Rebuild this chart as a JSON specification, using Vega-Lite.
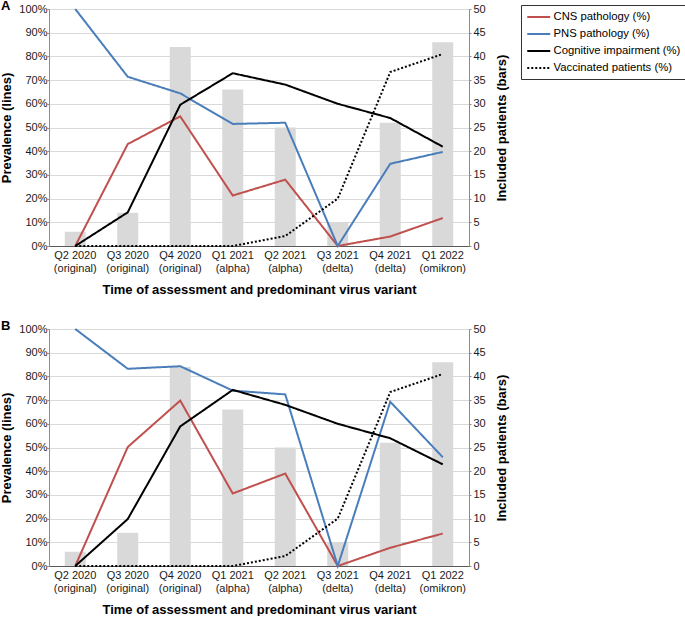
{
  "$schema": "https://vega.github.io/schema/vega-lite/v6.json",
  "padding": {"left": 0, "top": 0, "right": 0, "bottom": 0},
  "config": {
    "font": "Liberation Sans",
    "view": {"stroke": null},
    "axis": {
      "labelFontSize": 11,
      "labelColor": "#1a1a1a",
      "titleFontSize": 13,
      "titleFontWeight": "bold",
      "titleColor": "#000000",
      "domainColor": "#8c8c8c",
      "tickColor": "#8c8c8c",
      "gridColor": "#d9d9d9"
    }
  },
  "datasets": {
    "bars": [
      {"period": "Q2 2020 (original)", "patients": 3},
      {"period": "Q3 2020 (original)", "patients": 7},
      {"period": "Q4 2020 (original)", "patients": 42},
      {"period": "Q1 2021 (alpha)", "patients": 33},
      {"period": "Q2 2021 (alpha)", "patients": 25},
      {"period": "Q3 2021 (delta)", "patients": 5},
      {"period": "Q4 2021 (delta)", "patients": 26},
      {"period": "Q1 2022 (omikron)", "patients": 43}
    ],
    "linesA": [
      {"period": "Q2 2020 (original)", "series": "CNS pathology (%)", "value": 0},
      {"period": "Q3 2020 (original)", "series": "CNS pathology (%)", "value": 43},
      {"period": "Q4 2020 (original)", "series": "CNS pathology (%)", "value": 54.7},
      {"period": "Q1 2021 (alpha)", "series": "CNS pathology (%)", "value": 21.3},
      {"period": "Q2 2021 (alpha)", "series": "CNS pathology (%)", "value": 28},
      {"period": "Q3 2021 (delta)", "series": "CNS pathology (%)", "value": 0},
      {"period": "Q4 2021 (delta)", "series": "CNS pathology (%)", "value": 4},
      {"period": "Q1 2022 (omikron)", "series": "CNS pathology (%)", "value": 11.8},
      {"period": "Q2 2020 (original)", "series": "PNS pathology (%)", "value": 100},
      {"period": "Q3 2020 (original)", "series": "PNS pathology (%)", "value": 71.4},
      {"period": "Q4 2020 (original)", "series": "PNS pathology (%)", "value": 64.4},
      {"period": "Q1 2021 (alpha)", "series": "PNS pathology (%)", "value": 51.5},
      {"period": "Q2 2021 (alpha)", "series": "PNS pathology (%)", "value": 52},
      {"period": "Q3 2021 (delta)", "series": "PNS pathology (%)", "value": 0},
      {"period": "Q4 2021 (delta)", "series": "PNS pathology (%)", "value": 34.7},
      {"period": "Q1 2022 (omikron)", "series": "PNS pathology (%)", "value": 39.7},
      {"period": "Q2 2020 (original)", "series": "Cognitive impairment (%)", "value": 0},
      {"period": "Q3 2020 (original)", "series": "Cognitive impairment (%)", "value": 14.2},
      {"period": "Q4 2020 (original)", "series": "Cognitive impairment (%)", "value": 59.6},
      {"period": "Q1 2021 (alpha)", "series": "Cognitive impairment (%)", "value": 72.9},
      {"period": "Q2 2021 (alpha)", "series": "Cognitive impairment (%)", "value": 68.1},
      {"period": "Q3 2021 (delta)", "series": "Cognitive impairment (%)", "value": 60},
      {"period": "Q4 2021 (delta)", "series": "Cognitive impairment (%)", "value": 54},
      {"period": "Q1 2022 (omikron)", "series": "Cognitive impairment (%)", "value": 41.9},
      {"period": "Q2 2020 (original)", "series": "Vaccinated patients (%)", "value": 0},
      {"period": "Q3 2020 (original)", "series": "Vaccinated patients (%)", "value": 0},
      {"period": "Q4 2020 (original)", "series": "Vaccinated patients (%)", "value": 0},
      {"period": "Q1 2021 (alpha)", "series": "Vaccinated patients (%)", "value": 0},
      {"period": "Q2 2021 (alpha)", "series": "Vaccinated patients (%)", "value": 4.2},
      {"period": "Q3 2021 (delta)", "series": "Vaccinated patients (%)", "value": 20},
      {"period": "Q4 2021 (delta)", "series": "Vaccinated patients (%)", "value": 73.4},
      {"period": "Q1 2022 (omikron)", "series": "Vaccinated patients (%)", "value": 81}
    ],
    "linesB": [
      {"period": "Q2 2020 (original)", "series": "CNS pathology (%)", "value": 0},
      {"period": "Q3 2020 (original)", "series": "CNS pathology (%)", "value": 50.2},
      {"period": "Q4 2020 (original)", "series": "CNS pathology (%)", "value": 69.8},
      {"period": "Q1 2021 (alpha)", "series": "CNS pathology (%)", "value": 30.6},
      {"period": "Q2 2021 (alpha)", "series": "CNS pathology (%)", "value": 39},
      {"period": "Q3 2021 (delta)", "series": "CNS pathology (%)", "value": 0},
      {"period": "Q4 2021 (delta)", "series": "CNS pathology (%)", "value": 7.7},
      {"period": "Q1 2022 (omikron)", "series": "CNS pathology (%)", "value": 13.7},
      {"period": "Q2 2020 (original)", "series": "PNS pathology (%)", "value": 100},
      {"period": "Q3 2020 (original)", "series": "PNS pathology (%)", "value": 83.2},
      {"period": "Q4 2020 (original)", "series": "PNS pathology (%)", "value": 84.3},
      {"period": "Q1 2021 (alpha)", "series": "PNS pathology (%)", "value": 74},
      {"period": "Q2 2021 (alpha)", "series": "PNS pathology (%)", "value": 72.4},
      {"period": "Q3 2021 (delta)", "series": "PNS pathology (%)", "value": 0},
      {"period": "Q4 2021 (delta)", "series": "PNS pathology (%)", "value": 69.3},
      {"period": "Q1 2022 (omikron)", "series": "PNS pathology (%)", "value": 45.9},
      {"period": "Q2 2020 (original)", "series": "Cognitive impairment (%)", "value": 0},
      {"period": "Q3 2020 (original)", "series": "Cognitive impairment (%)", "value": 19.8},
      {"period": "Q4 2020 (original)", "series": "Cognitive impairment (%)", "value": 58.9},
      {"period": "Q1 2021 (alpha)", "series": "Cognitive impairment (%)", "value": 74.3},
      {"period": "Q2 2021 (alpha)", "series": "Cognitive impairment (%)", "value": 68},
      {"period": "Q3 2021 (delta)", "series": "Cognitive impairment (%)", "value": 60},
      {"period": "Q4 2021 (delta)", "series": "Cognitive impairment (%)", "value": 53.9},
      {"period": "Q1 2022 (omikron)", "series": "Cognitive impairment (%)", "value": 42.9},
      {"period": "Q2 2020 (original)", "series": "Vaccinated patients (%)", "value": 0},
      {"period": "Q3 2020 (original)", "series": "Vaccinated patients (%)", "value": 0},
      {"period": "Q4 2020 (original)", "series": "Vaccinated patients (%)", "value": 0},
      {"period": "Q1 2021 (alpha)", "series": "Vaccinated patients (%)", "value": 0},
      {"period": "Q2 2021 (alpha)", "series": "Vaccinated patients (%)", "value": 4.2},
      {"period": "Q3 2021 (delta)", "series": "Vaccinated patients (%)", "value": 20},
      {"period": "Q4 2021 (delta)", "series": "Vaccinated patients (%)", "value": 73.4},
      {"period": "Q1 2022 (omikron)", "series": "Vaccinated patients (%)", "value": 81}
    ]
  },
  "spacing": 24,
  "resolve": {
    "scale": {"color": "independent", "strokeDash": "independent"},
    "legend": {"color": "independent", "strokeDash": "independent"}
  },
  "vconcat": [
    {
      "width": 420,
      "height": 237,
      "title": {"text": "A", "anchor": "start", "frame": "group", "offset": 0, "dx": -48, "dy": 10, "fontSize": 13, "fontWeight": "bold", "color": "#000000"},
      "layer": [
        {
          "data": {"name": "bars"},
          "mark": {"type": "bar", "color": "#d9d9d9"},
          "encoding": {
            "x": {"field": "period", "type": "nominal", "sort": null,
              "scale": {"paddingInner": 0.6, "paddingOuter": 0.3},
              "axis": {"title": "Time of assessment and predominant virus variant", "labelAngle": 0, "labelExpr": "[slice(datum.label, 0, 7), slice(datum.label, 8)]", "labelLineHeight": 13, "labelPadding": 3, "ticks": false, "domainColor": "#595959", "titlePadding": 10}},
            "y": {"field": "patients", "type": "quantitative", "scale": {"domain": [0, 50]},
              "axis": {"orient": "right", "title": "Included patients (bars)", "titleAngle": 270, "titleBaseline": "top", "values": [0, 5, 10, 15, 20, 25, 30, 35, 40, 45, 50], "grid": false, "tickSize": 2, "labelPadding": 2, "titlePadding": 10}}
          }
        },
        {
          "data": {"name": "linesA"},
          "mark": {"type": "line", "strokeWidth": 2},
          "encoding": {
            "x": {"field": "period", "type": "nominal", "sort": null},
            "y": {"field": "value", "type": "quantitative", "scale": {"domain": [0, 100]},
              "axis": {"orient": "left", "title": "Prevalence (lines)", "values": [0, 10, 20, 30, 40, 50, 60, 70, 80, 90, 100], "labelExpr": "datum.value + '%'", "grid": true, "tickSize": 2, "labelPadding": 0, "titlePadding": 5}},
            "color": {"field": "series", "type": "nominal",
              "scale": {"domain": ["CNS pathology (%)", "PNS pathology (%)", "Cognitive impairment (%)", "Vaccinated patients (%)"], "range": ["#c0504d", "#4a7ebb", "#000000", "#000000"]},
              "legend": {"title": null, "orient": "none", "legendX": 472, "legendY": -4, "symbolType": "M-1,0H3", "symbolSize": 132, "symbolStrokeWidth": 2, "labelFontSize": 11.3, "labelColor": "#000000", "labelOffset": 13.5, "labelLimit": 300, "strokeColor": "#333333", "fillColor": "#ffffff", "padding": 5, "rowPadding": 4}},
            "strokeDash": {"field": "series", "type": "nominal",
              "scale": {"domain": ["CNS pathology (%)", "PNS pathology (%)", "Cognitive impairment (%)", "Vaccinated patients (%)"], "range": [[1, 0], [1, 0], [1, 0], [2, 2]]},
              "legend": {"title": null, "orient": "none", "legendX": 472, "legendY": -4, "symbolType": "M-1,0H3", "symbolSize": 132, "symbolStrokeWidth": 2, "labelFontSize": 11.3, "labelColor": "#000000", "labelOffset": 13.5, "labelLimit": 300, "strokeColor": "#333333", "fillColor": "#ffffff", "padding": 5, "rowPadding": 4}}
          }
        }
      ],
      "resolve": {"scale": {"y": "independent"}}
    },
    {
      "width": 420,
      "height": 237,
      "title": {"text": "B", "anchor": "start", "frame": "group", "offset": 0, "dx": -48, "dy": 10, "fontSize": 13, "fontWeight": "bold", "color": "#000000"},
      "layer": [
        {
          "data": {"name": "bars"},
          "mark": {"type": "bar", "color": "#d9d9d9"},
          "encoding": {
            "x": {"field": "period", "type": "nominal", "sort": null,
              "scale": {"paddingInner": 0.6, "paddingOuter": 0.3},
              "axis": {"title": "Time of assessment and predominant virus variant", "labelAngle": 0, "labelExpr": "[slice(datum.label, 0, 7), slice(datum.label, 8)]", "labelLineHeight": 13, "labelPadding": 3, "ticks": false, "domainColor": "#595959", "titlePadding": 10}},
            "y": {"field": "patients", "type": "quantitative", "scale": {"domain": [0, 50]},
              "axis": {"orient": "right", "title": "Included patients (bars)", "titleAngle": 270, "titleBaseline": "top", "values": [0, 5, 10, 15, 20, 25, 30, 35, 40, 45, 50], "grid": false, "tickSize": 2, "labelPadding": 2, "titlePadding": 10}}
          }
        },
        {
          "data": {"name": "linesB"},
          "mark": {"type": "line", "strokeWidth": 2},
          "encoding": {
            "x": {"field": "period", "type": "nominal", "sort": null},
            "y": {"field": "value", "type": "quantitative", "scale": {"domain": [0, 100]},
              "axis": {"orient": "left", "title": "Prevalence (lines)", "values": [0, 10, 20, 30, 40, 50, 60, 70, 80, 90, 100], "labelExpr": "datum.value + '%'", "grid": true, "tickSize": 2, "labelPadding": 0, "titlePadding": 5}},
            "color": {"field": "series", "type": "nominal",
              "scale": {"domain": ["CNS pathology (%)", "PNS pathology (%)", "Cognitive impairment (%)", "Vaccinated patients (%)"], "range": ["#c0504d", "#4a7ebb", "#000000", "#000000"]},
              "legend": null},
            "strokeDash": {"field": "series", "type": "nominal",
              "scale": {"domain": ["CNS pathology (%)", "PNS pathology (%)", "Cognitive impairment (%)", "Vaccinated patients (%)"], "range": [[1, 0], [1, 0], [1, 0], [2, 2]]},
              "legend": null}
          }
        }
      ],
      "resolve": {"scale": {"y": "independent"}}
    }
  ]
}
